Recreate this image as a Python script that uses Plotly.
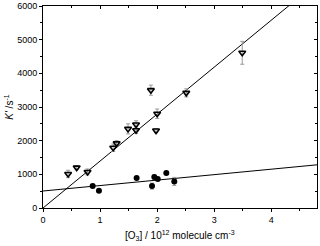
import plotly.graph_objects as go

# Open triangles (upper series)
tri_x = [0.44, 0.59, 0.78, 1.23, 1.29, 1.49, 1.63, 1.63, 1.89, 2.00, 1.98, 2.51, 3.49]
tri_y = [1010, 1200, 1070, 1790, 1920, 2350, 2480, 2310, 3500, 2800, 2300, 3420, 4610]
tri_err = [110, 60, 90, 110, 80, 150, 110, 100, 150, 140, 60, 120, 340]

# Filled circles (lower series)
cir_x = [0.87, 0.98, 1.64, 1.91, 1.95, 2.01, 2.16, 2.30]
cir_y = [650, 510, 890, 650, 920, 860, 1040, 790]
cir_err = [40, 40, 40, 90, 60, 40, 40, 120]

# Fit lines
fit_x = [0.0, 4.8]
fit1_slope, fit1_int = 1395, 0
fit2_slope, fit2_int = 162, 505

fig = go.Figure()
fig.add_trace(go.Scatter(x=fit_x, y=[fit1_int + fit1_slope * v for v in fit_x], mode="lines",
                         line=dict(color="black", width=1), showlegend=False))
fig.add_trace(go.Scatter(x=fit_x, y=[fit2_int + fit2_slope * v for v in fit_x], mode="lines",
                         line=dict(color="black", width=1), showlegend=False))
fig.add_trace(go.Scatter(x=tri_x, y=tri_y, mode="markers",
                         marker=dict(symbol="triangle-down-open", size=6, color="black",
                                     line=dict(width=1.6, color="black")),
                         error_y=dict(type="data", array=tri_err, color="#999999", thickness=1, width=2),
                         showlegend=False))
fig.add_trace(go.Scatter(x=cir_x, y=cir_y, mode="markers",
                         marker=dict(symbol="circle", size=6, color="black"),
                         error_y=dict(type="data", array=cir_err, color="#999999", thickness=1, width=2),
                         showlegend=False))

axfont = dict(family="Liberation Sans, Arial", size=9, color="black")
titlefont = dict(family="Liberation Sans, Arial", size=10, color="black")
fig.update_layout(
    width=320, height=246,
    margin=dict(l=43, r=3, t=6, b=38, autoexpand=False),
    paper_bgcolor="white", plot_bgcolor="white",
    font=axfont,
    xaxis=dict(range=[0, 4.8], tickvals=[0, 1, 2, 3, 4], ticks="outside", ticklen=3,
               tickcolor="black", showline=True, linecolor="black", linewidth=1, mirror=True,
               showgrid=False, zeroline=False, tickfont=axfont, automargin=False,
               minor=dict(tickvals=[0.5, 1.5, 2.5, 3.5, 4.5], ticks="outside", ticklen=2, tickcolor="black")),
    yaxis=dict(range=[0, 6000], tickvals=[0, 1000, 2000, 3000, 4000, 5000, 6000], ticks="outside",
               ticklen=3, tickcolor="black", showline=True, linecolor="black", linewidth=1, mirror=True,
               showgrid=False, zeroline=False, tickfont=axfont, automargin=False,
               minor=dict(tickvals=[500, 1500, 2500, 3500, 4500, 5500], ticks="outside", ticklen=2, tickcolor="black")),
    xaxis2=dict(range=[0, 4.8], overlaying="x", side="top", tickvals=[0, 1, 2, 3, 4],
                ticks="inside", ticklen=3, tickcolor="black", showticklabels=False, showgrid=False,
                zeroline=False, automargin=False,
                minor=dict(tickvals=[0.5, 1.5, 2.5, 3.5, 4.5], ticks="inside", ticklen=2, tickcolor="black")),
    yaxis2=dict(range=[0, 6000], overlaying="y", side="right", tickvals=[0, 1000, 2000, 3000, 4000, 5000, 6000],
                ticks="inside", ticklen=3, tickcolor="black", showticklabels=False, showgrid=False,
                zeroline=False, automargin=False,
                minor=dict(tickvals=[500, 1500, 2500, 3500, 4500, 5500], ticks="inside", ticklen=2, tickcolor="black")),
    annotations=[
        dict(text="[O<sub>3</sub>] / 10<sup>12</sup> molecule cm<sup>-3</sup>", xref="paper", yref="paper",
             x=0.5, y=-0.095, xanchor="center", yanchor="top", showarrow=False, font=titlefont),
        dict(text="<i>K'</i> /s<sup>-1</sup>", xref="paper", yref="paper", textangle=-90,
             x=-0.125, y=0.5, xanchor="center", yanchor="middle", showarrow=False, font=titlefont),
    ],
)
# dummy trace to activate secondary axes
fig.add_trace(go.Scatter(x=[None], y=[None], xaxis="x2", yaxis="y2", showlegend=False, hoverinfo="skip"))

fig.write_html("out.html", config={"responsive": False, "displayModeBar": False},
               post_script="document.body.style.margin='0';document.body.style.overflow='hidden';")
